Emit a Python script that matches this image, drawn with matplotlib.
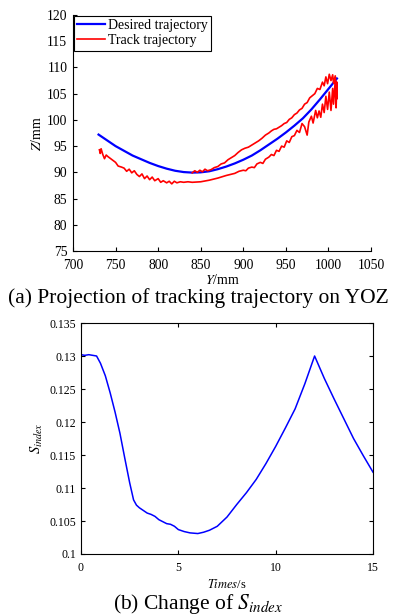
import matplotlib
matplotlib.use("Agg")
import matplotlib.pyplot as plt

plt.rcParams['font.family'] = ['Liberation Serif', 'DejaVu Serif']
plt.rcParams['mathtext.fontset'] = 'stix'

# (a) desired trajectory
desired_y = [730, 740, 750, 760, 770, 780, 790, 800, 810, 820, 830, 840, 850, 860,
             870, 880, 890, 900, 910, 920, 930, 940, 950, 960, 970, 980, 990, 1000, 1010]
desired_z = [97.2, 96.1, 95.0, 94.1, 93.2, 92.5, 91.8, 91.2, 90.7, 90.3, 90.05, 89.95, 90.0, 90.2,
             90.6, 91.1, 91.7, 92.4, 93.2, 94.2, 95.3, 96.4, 97.6, 98.9, 100.3, 102.0, 103.9, 105.9, 107.9]

# (a) track trajectory, lower branch then back along the upper branch
track_y = [731, 732, 733, 735, 737, 739, 741, 745, 750, 753, 757, 760, 763, 766, 769, 772,
           775, 778, 781, 784, 787, 790, 793, 796, 800, 803, 806, 810, 813, 816, 819, 822,
           826, 830, 835, 840, 850, 860, 870, 880, 890, 895, 900, 903, 906, 910, 913, 916,
           920, 923, 926, 930, 933, 936, 939, 942, 945, 948, 951, 954, 957, 960, 963, 966,
           969, 972, 975, 977, 980, 982, 985, 987, 989, 991, 993, 995, 997, 999, 1001, 1003,
           1005, 1006, 1008, 1009, 1010,
           1010, 1008, 1006, 1005, 1003, 1001, 999, 997, 995, 993, 990, 987, 984, 981, 978,
           975, 972, 969, 966, 963, 960, 957, 954, 951, 948, 945, 942, 939, 936, 933, 930,
           926, 922, 918, 914, 910, 906, 902, 898, 894, 890, 886, 882, 878, 874, 870, 866,
           862, 858, 855, 852, 849, 846, 843, 840]
track_z = [94.3, 93.6, 94.5, 93.4, 92.6, 93.3, 93.0, 92.5, 91.9, 91.2, 91.0, 90.8, 90.2, 90.6,
           89.9, 90.3, 89.6, 89.2, 89.7, 88.8, 89.3, 88.6, 89.1, 88.4, 88.8, 88.1, 88.4, 88.0,
           88.3, 87.8, 88.3, 88.0, 88.2, 88.1, 88.2, 88.1, 88.2, 88.5, 88.9, 89.4, 89.8, 90.2,
           90.4, 90.3, 90.8, 91.0, 90.9, 91.6, 91.9, 91.7, 92.5, 92.9, 93.4, 93.2, 94.2, 94.0,
           95.0, 94.8, 96.0, 95.7, 96.8, 97.0, 98.0, 97.6, 99.3, 98.7, 97.1, 99.6, 100.7, 99.4,
           101.8, 100.4, 101.7, 100.5, 103.0, 101.4, 104.5, 102.0, 105.3, 101.8, 106.0, 103.0,
           107.5, 102.3, 107.2,
           104.0, 108.4, 107.0, 108.6, 107.5, 108.7, 106.9, 108.2, 106.5, 107.2, 105.8, 106.0,
           105.0, 104.6, 104.2, 103.3, 103.0, 102.2, 101.9, 101.3, 101.0, 100.4, 100.1, 99.5,
           99.3, 98.9, 98.6, 98.3, 98.2, 97.9, 97.5, 97.1, 96.5, 96.0, 95.6, 95.2, 94.8, 94.6,
           94.3, 93.8, 93.2, 92.8, 92.4, 91.8, 91.6, 91.1, 90.9, 90.5, 90.3, 90.6, 90.1, 90.4,
           90.0, 90.3, 89.9]

# (b) S_index over time
times = [0, 0.2, 0.4, 0.6, 0.8, 1.0, 1.25, 1.5, 1.75, 2.0, 2.25, 2.5, 2.7, 2.85, 3.0, 3.2,
         3.4, 3.6, 3.8, 4.0, 4.2, 4.4, 4.6, 4.8, 5.0, 5.3, 5.6, 6.0, 6.3, 6.6, 7.0, 7.5,
         8.0, 8.5, 9.0, 9.5, 10.0, 10.5, 11.0, 11.5, 12.0, 12.5, 13.0, 13.5, 14.0, 14.5, 15.0]
s_index = [0.1302, 0.1301, 0.1302, 0.1301, 0.1300, 0.1289, 0.1270, 0.1244, 0.1215, 0.1183,
           0.1145, 0.1108, 0.1082, 0.1074, 0.1070, 0.1066, 0.1062, 0.1060, 0.1057, 0.1052,
           0.1049, 0.1046, 0.1045, 0.1042, 0.1037, 0.1034, 0.1032, 0.1031, 0.1033, 0.1036,
           0.1042, 0.1056, 0.1075, 0.1093, 0.1113, 0.1137, 0.1163, 0.1191, 0.1220, 0.1258,
           0.1300, 0.1266, 0.1235, 0.1205, 0.1175, 0.1149, 0.1124]

fig = plt.figure(figsize=(3.96, 6.16), dpi=100)

# top panel
ax1 = fig.add_axes([73 / 396, 1 - 251 / 616, 298 / 396, 236 / 616])
ax1.plot(desired_y, desired_z, color='blue', lw=1.6, label='Desired trajectory')
ax1.plot(track_y, track_z, color='red', lw=1.2, label='Track trajectory')
ax1.set_xlim(700, 1050)
ax1.set_ylim(75, 120)
ax1.set_xticks(range(700, 1051, 50))
ax1.set_yticks(range(75, 121, 5))
ax1.spines['top'].set_visible(False)
ax1.spines['right'].set_visible(False)
ax1.tick_params(direction='in', labelsize=9.8, length=3)
ax1.tick_params(axis='x', pad=6)
ax1.tick_params(axis='y', pad=4)
ax1.set_xlabel('$Y$/mm', fontsize=10, labelpad=0.5)
ax1.set_ylabel('$Z$/mm', fontsize=10, labelpad=2)
leg = ax1.legend(loc='upper left', fontsize=10, fancybox=False, edgecolor='black',
                 framealpha=1, borderaxespad=0.05, handlelength=2.0, borderpad=0.25,
                 labelspacing=0.15, handletextpad=0.2)
leg.get_frame().set_linewidth(0.8)
fig.text(0.5, 1 - 298 / 616, '(a) Projection of tracking trajectory on YOZ',
         ha='center', va='center', fontsize=15.5)

# bottom panel
ax2 = fig.add_axes([81 / 396, 1 - 554 / 616, 292 / 396, 231 / 616])
ax2.plot(times, s_index, color='blue', lw=1.1)
ax2.set_xlim(0, 15)
ax2.set_ylim(0.1, 0.135)
ax2.set_xticks([0, 5, 10, 15])
ax2.set_yticks([0.1, 0.105, 0.11, 0.115, 0.12, 0.125, 0.13, 0.135])
ax2.set_yticklabels(['0.1', '0.105', '0.11', '0.115', '0.12', '0.125', '0.13', '0.135'])
ax2.tick_params(direction='in', labelsize=8.5, length=3, top=True, right=True)
ax2.tick_params(axis='x', pad=6)
ax2.tick_params(axis='y', pad=3.5)
ax2.set_xlabel('$Times$/s', fontsize=9, labelpad=3)
ax2.set_ylabel('$S_{index}$', fontsize=10.5, labelpad=3)
fig.text(0.5, 1 - 604 / 616, '(b) Change of $S_{index}$',
         ha='center', va='center', fontsize=15.5)

fig.savefig('out.png', dpi=100)
